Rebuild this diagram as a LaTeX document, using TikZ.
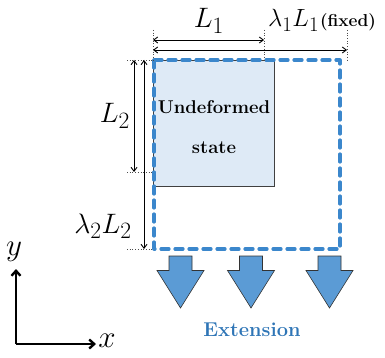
\documentclass[tikz,border=0pt]{standalone}
\usetikzlibrary{arrows.meta}
\definecolor{dashblue}{HTML}{3B87CC}
\definecolor{arrowblue}{HTML}{5B9BD5}
\definecolor{boxfill}{HTML}{DEEAF6}
\definecolor{textblue}{HTML}{2E75B6}
\tikzset{
  dimline/.style={{Straight Barb[length=4pt,width=6pt]}-{Straight Barb[length=4pt,width=6pt]}, line width=0.9pt, black},
  guide/.style={dotted, line width=0.7pt, black!70},
  dashbox/.style={draw=dashblue, line width=3.2pt, dash pattern=on 8pt off 6pt, line cap=round, line join=round},
  blockarrow/.style={fill=arrowblue, draw=black!80, line width=0.6pt, line join=miter},
  axisline/.style={-{Straight Barb[length=5pt,width=9pt]}, line width=2.4pt, black},
  lab/.style={inner sep=0pt, anchor=center},
}
\newcommand{\mybigmath}[2]{\scalebox{#1}{\Huge$#2$}}
\begin{document}
\begin{tikzpicture}[x=1pt,y=-1pt]
\useasboundingbox (0,0) rectangle (385,358);
% undeformed box
\node[draw=black!75, line width=0.8pt, fill=boxfill, minimum width=121pt, minimum height=126pt, anchor=north west, inner sep=0pt] (und) at (153,60) {};
\node[lab, font=\bfseries\fontsize{18.5}{40}\selectfont, align=center] (undtxt) at (214,127) {Undeformed\\state};
% dashed deformed box
\coordinate (dtl) at (154,60);
\coordinate (dbr) at (340,249);
\draw[dashbox] (dtl) rectangle (dbr);
% guides
\coordinate (gA) at (153,30);
\coordinate (gA2) at (153,60);
\coordinate (gB) at (264,30);
\coordinate (gB2) at (264,60);
\coordinate (gC) at (347,30);
\coordinate (gC2) at (347,60);
\draw[guide] (gA) -- (gA2);
\draw[guide] (gB) -- (gB2);
\draw[guide] (gC) -- (gC2);
\coordinate (hA) at (127,60);
\coordinate (hA2) at (153,60);
\coordinate (hB) at (127,172);
\coordinate (hB2) at (153,172);
\coordinate (hC) at (127,249);
\coordinate (hC2) at (153,249);
\draw[guide] (hA) -- (hA2);
\draw[guide] (hB) -- (hB2);
\draw[guide] (hC) -- (hC2);
% dimension arrows
\coordinate (l1a) at (153,40);
\coordinate (l1b) at (264,40);
\draw[dimline] (l1a) -- (l1b);
\coordinate (l1la) at (153,50);
\coordinate (l1lb) at (347,50);
\draw[dimline] (l1la) -- (l1lb);
\coordinate (l2a) at (134,60);
\coordinate (l2b) at (134,172);
\draw[dimline] (l2a) -- (l2b);
\coordinate (l2la) at (144,60);
\coordinate (l2lb) at (144,249);
\draw[dimline] (l2la) -- (l2lb);
% labels
\node[lab, anchor=base] (L1) at (209,28) {\mybigmath{1.13}{L_1}};
\node[lab, anchor=base west] (lamL1) at (268,27) {\mybigmath{1.0}{\lambda_1 L_1}\kern1pt{\bfseries\fontsize{17.28}{20}\selectfont (fixed)}};
\node[lab] (L2) at (115,116) {\mybigmath{1.13}{L_2}};
\node[lab] (lamL2) at (103,226) {\mybigmath{1.13}{\lambda_2 L_2}};
% block arrows
\foreach \cx/\nm in {180.5/a1, 251/a2, 329.5/a3}{
  \draw[blockarrow] (\cx-11.5,256) -- (\cx+11.5,256) -- (\cx+11.5,270.5) -- (\cx+23.5,270.5)
     -- (\cx,308) -- (\cx-23.5,270.5) -- (\cx-11.5,270.5) -- cycle;
}
\node[lab, text=textblue, font=\bfseries\fontsize{20}{24}\selectfont] (ext) at (252,330) {Extension};
% axes
\coordinate (o) at (16,344);
\coordinate (ytip) at (16,269);
\coordinate (xtip) at (96,344);
\draw[axisline] (o) -- (ytip);
\draw[axisline] (o) -- (xtip);
\node[lab] (ylab) at (14,252) {\mybigmath{1.25}{y}};
\node[lab] (xlab) at (107,341) {\mybigmath{1.25}{x}};
\end{tikzpicture}
\end{document}
